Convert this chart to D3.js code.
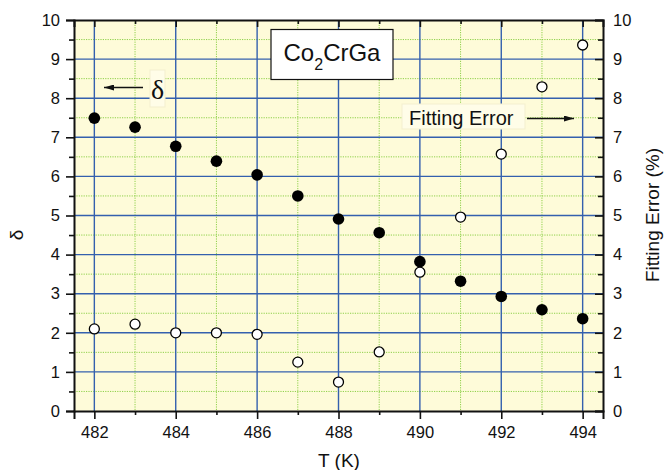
<!DOCTYPE html>
<html>
<head>
<meta charset="utf-8">
<script src="https://cdn.jsdelivr.net/npm/d3@7"></script>
<style>
  html, body { margin: 0; padding: 0; background: #ffffff; }
  svg { display: block; }
  text { font-family: "Liberation Sans", Arial, sans-serif; fill: #111; }
</style>
</head>
<body>
<svg id="chart" width="665" height="470"></svg>
<script>
// Temperature (K)
const temps = [482, 483, 484, 485, 486, 487, 488, 489, 490, 491, 492, 493, 494];
// Fitted exponent delta (left axis)
const deltaValues = [7.49, 7.26, 6.77, 6.39, 6.04, 5.50, 4.91, 4.56, 3.82, 3.32, 2.93, 2.59, 2.36];
// Fitting error in percent (right axis)
const errorValues = [2.10, 2.22, 2.00, 2.00, 1.96, 1.25, 0.74, 1.51, 3.55, 4.96, 6.57, 8.29, 9.36];

const xTicks = [482, 484, 486, 488, 490, 492, 494];
const xMinorTicks = [483, 485, 487, 489, 491, 493];
const yTicks = [0, 1, 2, 3, 4, 5, 6, 7, 8, 9, 10];
const yMinorTicks = [0.5, 1.5, 2.5, 3.5, 4.5, 5.5, 6.5, 7.5, 8.5, 9.5];

const svg = d3.select("#chart");
const L = 74, R = 603, T = 20, B = 411;

const x = d3.scaleLinear().domain([481.5, 494.5]).range([L, R]);
const yL = d3.scaleLinear().domain([0, 10]).range([B, T]);
const yR = d3.scaleLinear().domain([0, 10]).range([B, T]);

// plot background
svg.append("rect").attr("x", L).attr("y", T).attr("width", R - L).attr("height", B - T)
  .attr("fill", "#fefbd9");

const grid = svg.append("g");
// minor grid: green dotted
xMinorTicks.forEach(v => {
  grid.append("line").attr("x1", x(v)).attr("x2", x(v)).attr("y1", T).attr("y2", B)
    .attr("stroke", "#8fd04a").attr("stroke-width", 1).attr("stroke-dasharray", "1.2,1.2");
});
yMinorTicks.forEach(v => {
  grid.append("line").attr("x1", L).attr("x2", R).attr("y1", yL(v)).attr("y2", yL(v))
    .attr("stroke", "#8fd04a").attr("stroke-width", 1).attr("stroke-dasharray", "1.2,1.2");
});
// major grid: blue solid
xTicks.forEach(v => {
  grid.append("line").attr("x1", x(v)).attr("x2", x(v)).attr("y1", T).attr("y2", B)
    .attr("stroke", "#3460ae").attr("stroke-width", 1.4);
});
yTicks.slice(1, -1).forEach(v => {
  grid.append("line").attr("x1", L).attr("x2", R).attr("y1", yL(v)).attr("y2", yL(v))
    .attr("stroke", "#3460ae").attr("stroke-width", 1.4);
});

// axes
const fontSize = "16.5px";
const bottomAxis = d3.axisBottom(x).tickValues(xTicks).tickFormat(d3.format("d")).tickSize(8).tickPadding(7);
const gB = svg.append("g").attr("transform", `translate(0,${B})`).call(bottomAxis);
gB.selectAll("text").style("font-size", fontSize);
const bottomMinor = d3.axisBottom(x).tickValues(xMinorTicks).tickFormat("").tickSize(4);
svg.append("g").attr("transform", `translate(0,${B})`).call(bottomMinor).select(".domain").remove();

const topAxis = d3.axisBottom(x).tickValues(xTicks).tickFormat("").tickSize(7);
svg.append("g").attr("transform", `translate(0,${T})`).call(topAxis);
const topMinor = d3.axisBottom(x).tickValues(xMinorTicks).tickFormat("").tickSize(4);
svg.append("g").attr("transform", `translate(0,${T})`).call(topMinor).select(".domain").remove();

const leftAxis = d3.axisLeft(yL).tickValues(yTicks).tickFormat(d3.format("d")).tickSize(8).tickPadding(6);
const gL = svg.append("g").attr("transform", `translate(${L},0)`).call(leftAxis);
gL.selectAll("text").style("font-size", fontSize);
const leftMinor = d3.axisLeft(yL).tickValues(yMinorTicks).tickFormat("").tickSize(5);
svg.append("g").attr("transform", `translate(${L},0)`).call(leftMinor).select(".domain").remove();

const rightAxis = d3.axisLeft(yR).tickValues(yTicks).tickFormat(d3.format("d")).tickSize(8);
const gR = svg.append("g").attr("transform", `translate(${R},0)`).call(rightAxis);
gR.selectAll("text").style("font-size", fontSize).attr("text-anchor", "start").attr("x", 10);
const rightMinor = d3.axisLeft(yR).tickValues(yMinorTicks).tickFormat("").tickSize(5);
svg.append("g").attr("transform", `translate(${R},0)`).call(rightMinor).select(".domain").remove();

svg.selectAll(".domain").attr("stroke", "#111").attr("stroke-width", 2);
svg.selectAll(".tick line").attr("stroke", "#111").attr("stroke-width", 1.6);

// axis titles
svg.append("text").attr("transform", `translate(23,235) rotate(-90)`)
  .attr("text-anchor", "middle").style("font-size", "19px").text("δ");
svg.append("text").attr("transform", `translate(659,215) rotate(-90)`)
  .attr("text-anchor", "middle").style("font-size", "19px").text("Fitting Error (%)");
svg.append("text").attr("x", 339).attr("y", 467)
  .attr("text-anchor", "middle").style("font-size", "19px").text("T (K)");

// data points
svg.append("g").selectAll("circle").data(temps).join("circle")
  .attr("cx", d => x(d)).attr("cy", (d, i) => yL(deltaValues[i])).attr("r", 5.8)
  .attr("fill", "#000");
svg.append("g").selectAll("circle").data(temps).join("circle")
  .attr("cx", d => x(d)).attr("cy", (d, i) => yR(errorValues[i])).attr("r", 5)
  .attr("fill", "#fff").attr("stroke", "#000").attr("stroke-width", 1.3);

// compound label box
svg.append("rect").attr("x", 271).attr("y", 29.5).attr("width", 122).attr("height", 50)
  .attr("fill", "#fff").attr("stroke", "#111").attr("stroke-width", 1.2);
const title = svg.append("text").attr("x", 332).attr("y", 61).attr("text-anchor", "middle")
  .style("font-size", "24px");
title.append("tspan").text("Co");
title.append("tspan").attr("dy", 9).style("font-size", "16px").text("2");
title.append("tspan").attr("dy", -9).text("CrGa");

// arrow markers
const defs = svg.append("defs");
defs.append("marker").attr("id", "ah").attr("viewBox", "0 0 10 6").attr("refX", 10).attr("refY", 3)
  .attr("markerWidth", 10).attr("markerHeight", 6).attr("markerUnits", "userSpaceOnUse")
  .attr("orient", "auto").append("path").attr("d", "M0,0 L10,3 L0,6 Z").attr("fill", "#111");

// delta series label
svg.append("rect").attr("x", 150).attr("y", 70).attr("width", 15).attr("height", 37)
  .attr("fill", "#fffde8").attr("stroke", "#f3efcf");
svg.append("text").attr("x", 157.5).attr("y", 99).attr("text-anchor", "middle")
  .style("font-family", "'Liberation Serif', 'DejaVu Serif', serif").style("font-size", "28px").text("δ");
svg.append("line").attr("x1", 143).attr("y1", 87.5).attr("x2", 104).attr("y2", 87.5)
  .attr("stroke", "#111").attr("stroke-width", 1.3).attr("marker-end", "url(#ah)");

// fitting error series label
svg.append("rect").attr("x", 402).attr("y", 104).attr("width", 123).attr("height", 25)
  .attr("fill", "#fffde8").attr("stroke", "#f3efcf");
svg.append("text").attr("x", 409).attr("y", 124.5).style("font-size", "20px").text("Fitting Error");
svg.append("line").attr("x1", 527).attr("y1", 118.5).attr("x2", 574).attr("y2", 118.5)
  .attr("stroke", "#111").attr("stroke-width", 1.3).attr("marker-end", "url(#ah)");
</script>
</body>
</html>
